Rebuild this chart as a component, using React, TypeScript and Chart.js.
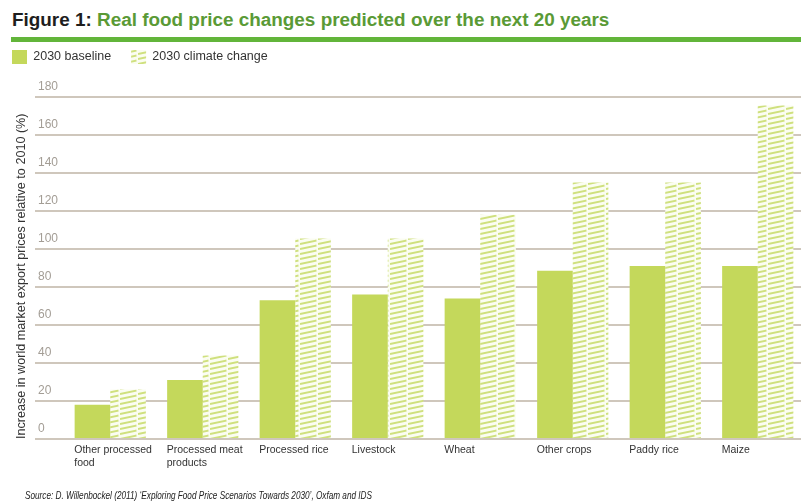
import React, { useEffect, useRef } from "react";
import { Chart, registerables } from "chart.js";

Chart.register(...registerables);

const categories: (string | string[])[] = [
  ["Other processed", "food"],
  ["Processed meat", "products"],
  "Processed rice",
  "Livestock",
  "Wheat",
  "Other crops",
  "Paddy rice",
  "Maize",
];
const baseline2030 = [18, 31, 73, 76, 74, 88.5, 91, 91];
const climateChange2030 = [26, 44, 105.5, 105.5, 118, 135, 135, 175.5];
const seriesNames = ["2030 baseline", "2030 climate change"];
const yMin = 0;
const yMax = 180;
const yStep = 20;

const titleLead = "Figure 1:";
const titleRest = "Real food price changes predicted over the next 20 years";
const yAxisTitle = "Increase in world market export prices relative to 2010 (%)";
const sourceText =
  "Source: D. Willenbockel (2011) \u2018Exploring Food Price Scenarios Towards 2030\u2019, Oxfam and IDS";

const ARIAL = '"Liberation Sans", Arial, sans-serif';
const GRID = "#cfc7bc";
const BASE_GREEN = "#c4d85b";

function makeHatch(ctx: CanvasRenderingContext2D): CanvasPattern | string {
  const tile = document.createElement("canvas");
  tile.width = 18;
  tile.height = 5;
  const g = tile.getContext("2d");
  if (!g) return "#dbe89c";
  g.fillStyle = "#fbfdf1";
  g.fillRect(0, 0, 18, 5);
  g.strokeStyle = "#cfe07e";
  g.lineWidth = 1.8;
  for (let k = -1; k <= 2; k++) {
    g.beginPath();
    g.moveTo(0, 5 * k + 4);
    g.lineTo(16.5, 5 * k + 0.5);
    g.stroke();
  }
  return ctx.createPattern(tile, "repeat") || "#dbe89c";
}

export default function App() {
  const canvasRef = useRef<HTMLCanvasElement | null>(null);
  const sourceRef = useRef<HTMLDivElement | null>(null);

  useEffect(() => {
    const src = sourceRef.current;
    if (src) {
      const w = src.scrollWidth;
      if (w > 0) src.style.transform = `scaleX(${347 / w})`;
    }
    const canvas = canvasRef.current;
    if (!canvas) return;
    const ctx = canvas.getContext("2d");
    if (!ctx) return;
    const hatch = makeHatch(ctx);

    const chart = new Chart(ctx, {
      type: "bar",
      data: {
        labels: categories,
        datasets: [
          {
            label: seriesNames[0],
            data: baseline2030,
            backgroundColor: BASE_GREEN,
            borderWidth: 0,
            xAxisID: "x",
            yAxisID: "y",
            categoryPercentage: 0.77,
            barPercentage: 1.0,
          },
          {
            label: seriesNames[1],
            data: climateChange2030,
            backgroundColor: hatch as any,
            borderWidth: 0,
            xAxisID: "x",
            yAxisID: "y",
            categoryPercentage: 0.77,
            barPercentage: 1.0,
          },
        ],
      },
      options: {
        responsive: false,
        animation: false,
        devicePixelRatio: 1,
        layout: { padding: { top: 30, left: -2, right: 2, bottom: 0 } },
        plugins: {
          legend: {
            display: true,
            position: "top",
            align: "start",
            labels: {
              boxWidth: 15,
              boxHeight: 14,
              padding: 20,
              color: "#333333",
              font: { family: ARIAL, size: 12.5 },
            },
          },
          title: { display: false },
          tooltip: { enabled: false },
        },
        scales: {
          x: {
            type: "category",
            position: "bottom",
            grid: { display: false, drawTicks: false },
            border: { display: false },
            ticks: {
              align: "start",
              labelOffset: -36,
              padding: 5,
              autoSkip: false,
              maxRotation: 0,
              minRotation: 0,
              color: "#333333",
              font: { family: ARIAL, size: 10.5, lineHeight: 1.2 },
            },
            afterFit: (s: any) => {
              s.height = 64;
            },
          },
          y: {
            type: "linear",
            position: "left",
            min: yMin,
            max: yMax,
            weight: 0,
            grid: {
              color: GRID,
              lineWidth: 2,
              drawTicks: true,
              tickLength: 29,
            },
            border: { display: false },
            ticks: {
              stepSize: yStep,
              crossAlign: "far",
              labelOffset: -10,
              color: "#a39d95",
              font: { family: ARIAL, size: 12 },
            },
            afterFit: (s: any) => {
              s.width = 26;
            },
          },
          yT: {
            type: "linear",
            position: "left",
            weight: 10,
            grid: { display: false, drawTicks: false },
            border: { display: false },
            ticks: { display: false },
            title: {
              display: true,
              text: yAxisTitle,
              align: "start",
              color: "#333333",
              padding: { top: 22, bottom: 0 },
              font: { family: ARIAL, size: 12.6, lineHeight: 1.2 },
            },
            afterFit: (s: any) => {
              s.width = 46;
            },
          },
          xT: {
            type: "category",
            position: "top",
            grid: { display: false, drawTicks: false },
            border: { display: false },
            ticks: { display: false },
            afterFit: (s: any) => {
              s.height = 23;
            },
          },
        },
      } as any,
    });

    return () => {
      chart.destroy();
    };
  }, []);

  return (
    <div
      style={{
        position: "fixed",
        left: 0,
        top: 0,
        width: 801,
        height: 503,
        overflow: "hidden",
        background: "#ffffff",
      }}
    >
      <div
        style={{
          position: "absolute",
          left: 12,
          top: 10,
          whiteSpace: "nowrap",
          fontFamily: ARIAL,
          fontWeight: "bold",
          fontSize: 18.9,
          lineHeight: "19px",
        }}
      >
        <span style={{ color: "#1e1e1e" }}>{titleLead}</span>{" "}
        <span style={{ color: "#5a9a36" }}>{titleRest}</span>
      </div>
      <div
        style={{
          position: "absolute",
          left: 11,
          top: 37,
          width: 790,
          height: 5,
          background: "#62b53a",
        }}
      />
      <canvas
        ref={canvasRef}
        width={812}
        height={503}
        style={{ position: "absolute", left: -6, top: 0, width: 812, height: 503 }}
      />
      <div
        ref={sourceRef}
        style={{
          position: "absolute",
          left: 25,
          top: 489,
          whiteSpace: "nowrap",
          fontFamily: ARIAL,
          fontStyle: "italic",
          fontSize: 11.5,
          lineHeight: "12px",
          color: "#222222",
          transformOrigin: "0 0",
          display: "inline-block",
        }}
      >
        {sourceText}
      </div>
    </div>
  );
}
